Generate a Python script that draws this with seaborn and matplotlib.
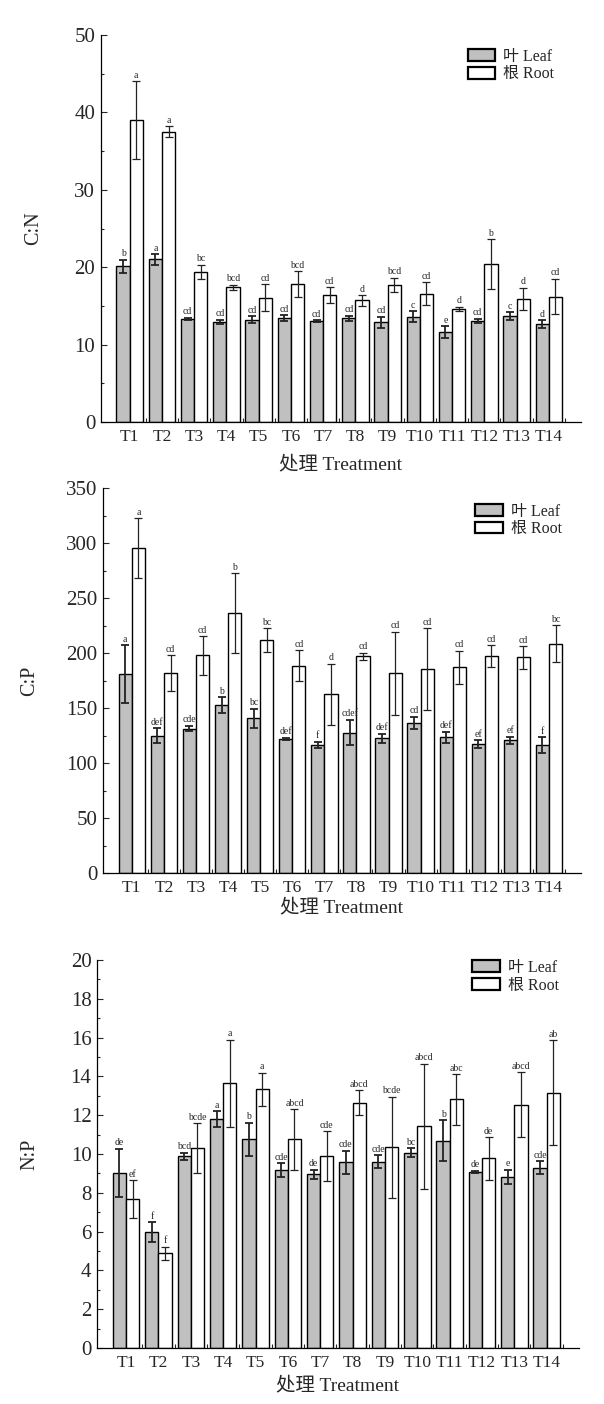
import numpy as np
import pandas as pd
import seaborn as sns
import matplotlib
matplotlib.use("Agg")
import matplotlib.pyplot as plt
from matplotlib.ticker import MultipleLocator, FixedLocator
from matplotlib.patches import Patch

treatments = ["T1", "T2", "T3", "T4", "T5", "T6", "T7",
              "T8", "T9", "T10", "T11", "T12", "T13", "T14"]
tissues = ["叶 Leaf", "根 Root"]

# C:N
cn_leaf = [20.1, 21.0, 13.3, 12.95, 13.2, 13.4, 13.04, 13.4, 12.9, 13.6, 11.6, 13.04, 13.7, 12.65]
cn_leaf_sd = [0.85, 0.7, 0.15, 0.25, 0.45, 0.4, 0.1, 0.35, 0.7, 0.7, 0.75, 0.3, 0.5, 0.5]
cn_root = [39.0, 37.5, 19.4, 17.4, 16.05, 17.8, 16.4, 15.7, 17.7, 16.6, 14.6, 20.4, 15.9, 16.2]
cn_root_sd = [5.0, 0.7, 0.9, 0.3, 1.75, 1.65, 1.0, 0.7, 0.95, 1.45, 0.3, 3.2, 1.45, 2.3]
cn_leaf_sig = ["b", "a", "cd", "cd", "cd", "cd", "cd", "cd", "cd", "c", "e", "cd", "c", "d"]
cn_root_sig = ["a", "a", "bc", "bcd", "cd", "bcd", "cd", "d", "bcd", "cd", "d", "b", "d", "cd"]

# C:P
cp_leaf = [181, 124.8, 131.2, 152.4, 140.6, 121.8, 116.4, 127.6, 122.4, 136.4, 123.3, 117.3, 120.6, 116.4]
cp_leaf_sd = [26, 6.7, 2.5, 7.3, 8.5, 1.0, 3.0, 11.5, 4.0, 5.5, 5.0, 3.5, 3.5, 7.1]
cp_root = [295.5, 181.8, 197.9, 236.4, 211.8, 188.5, 162.7, 197, 181.5, 185.5, 187, 197, 196, 208.5]
cp_root_sd = [27, 16, 17.5, 36, 10.5, 14, 27.7, 3.0, 37.6, 37, 15, 10, 10.3, 16.7]
cp_leaf_sig = ["a", "def", "cde", "b", "bc", "def", "f", "cdef", "def", "cd", "def", "ef", "ef", "f"]
cp_root_sig = ["a", "cd", "cd", "b", "bc", "cd", "d", "cd", "cd", "cd", "cd", "cd", "cd", "bc"]

# N:P
np_leaf = [9.03, 5.97, 9.87, 11.81, 10.75, 9.17, 8.96, 9.56, 9.61, 10.06, 10.68, 9.08, 8.82, 9.29]
np_leaf_sd = [1.24, 0.52, 0.2, 0.4, 0.85, 0.34, 0.23, 0.61, 0.33, 0.23, 1.06, 0.05, 0.36, 0.34]
np_root = [7.67, 4.87, 10.3, 13.64, 13.33, 10.75, 9.89, 12.64, 10.35, 11.42, 12.81, 9.77, 12.54, 13.16]
np_root_sd = [0.98, 0.36, 1.27, 2.25, 0.85, 1.56, 1.27, 0.63, 2.6, 3.24, 1.3, 1.1, 1.66, 2.7]
np_leaf_sig = ["de", "f", "bcd", "a", "b", "cde", "de", "cde", "cde", "bc", "b", "de", "e", "cde"]
np_root_sig = ["ef", "f", "bcde", "a", "a", "abcd", "cde", "abcd", "bcde", "abcd", "abc", "de", "abcd", "ab"]

sns.set_theme(style="ticks")
plt.rcParams["font.family"] = ["Liberation Serif", "Noto Sans CJK SC"]
plt.rcParams["xtick.direction"] = "in"
plt.rcParams["ytick.direction"] = "in"

colors = {"叶 Leaf": "#c0c0c0", "根 Root": "white"}

fig = plt.figure(figsize=(6.04, 14.04), dpi=100)


def draw_panel(rect, leaf, leaf_sd, root, root_sd, leaf_sig, root_sig,
               ylabel, ymax, major, minor, ylab_x, xlab_y, leg_xy):
    ax = fig.add_axes(rect)
    df = pd.DataFrame({
        "treatment": treatments * 2,
        "tissue": [tissues[0]] * len(treatments) + [tissues[1]] * len(treatments),
        "value": leaf + root,
    })
    sns.barplot(data=df, x="treatment", y="value", hue="tissue", hue_order=tissues,
                palette=colors, saturation=1, edgecolor="black", linewidth=1.0,
                width=0.82, errorbar=None, legend=False, ax=ax)

    for cont, means, sds, sigs, lw in zip(ax.containers, [leaf, root], [leaf_sd, root_sd],
                                          [leaf_sig, root_sig], [1.3, 0.9]):
        xs = [b.get_x() + b.get_width() / 2 for b in cont]
        ax.errorbar(xs, means, yerr=sds, fmt="none", ecolor="#222222",
                    elinewidth=lw, capsize=3, capthick=lw)
        for x, m, s, t in zip(xs, means, sds, sigs):
            ax.text(x, m + s + ymax * 0.004, t, ha="center", va="bottom", fontsize=7)

    ax.set_xlim(-0.9, 14.0)
    ax.set_ylim(0, ymax)
    ax.yaxis.set_major_locator(MultipleLocator(major))
    ax.yaxis.set_minor_locator(MultipleLocator(minor))
    ax.xaxis.set_minor_locator(FixedLocator(np.arange(0.5, 13.6, 1.0)))
    ax.tick_params(axis="y", which="major", length=4, width=0.8, labelsize=15, pad=4)
    ax.tick_params(axis="y", which="minor", length=2.5, width=0.8)
    ax.tick_params(axis="x", which="major", length=0, labelsize=12.5, pad=5)
    ax.tick_params(axis="x", which="minor", length=3, width=0.8, direction="in")
    sns.despine(ax=ax)
    for sp in ["left", "bottom"]:
        ax.spines[sp].set_linewidth(0.9)
        ax.spines[sp].set_color("black")

    ax.set_ylabel(ylabel, fontsize=14.5, va="center")
    ax.yaxis.set_label_coords(ylab_x, 0.5)
    ax.set_xlabel("处理 Treatment", fontsize=14, va="center")
    ax.xaxis.set_label_coords(0.5, xlab_y)

    handles = [Patch(facecolor=colors[t], edgecolor="black", linewidth=1.6, label=t)
               for t in tissues]
    ax.legend(handles=handles, loc="upper left", bbox_to_anchor=leg_xy,
              bbox_transform=fig.transFigure, frameon=False, fontsize=11.5,
              handlelength=1.7, handleheight=0.75, labelspacing=0.1,
              borderpad=0, handletextpad=0.5)
    return ax


draw_panel([0.1667, 0.6994, 0.7953, 0.2757], cn_leaf, cn_leaf_sd, cn_root, cn_root_sd,
           cn_leaf_sig, cn_root_sig, "C:N", 50, 10, 5, -0.14, -0.11, (0.762, 0.971))
draw_panel([0.1705, 0.3782, 0.7915, 0.2742], cp_leaf, cp_leaf_sd, cp_root, cp_root_sd,
           cp_leaf_sig, cp_root_sig, "C:P", 350, 50, 25, -0.153, -0.09, (0.774, 0.647))
draw_panel([0.1606, 0.0399, 0.7980, 0.2764], np_leaf, np_leaf_sd, np_root, np_root_sd,
           np_leaf_sig, np_root_sig, "N:P", 20, 2, 1, -0.14, -0.097, (0.769, 0.322))

fig.savefig("out.png", dpi=100, facecolor="white")
